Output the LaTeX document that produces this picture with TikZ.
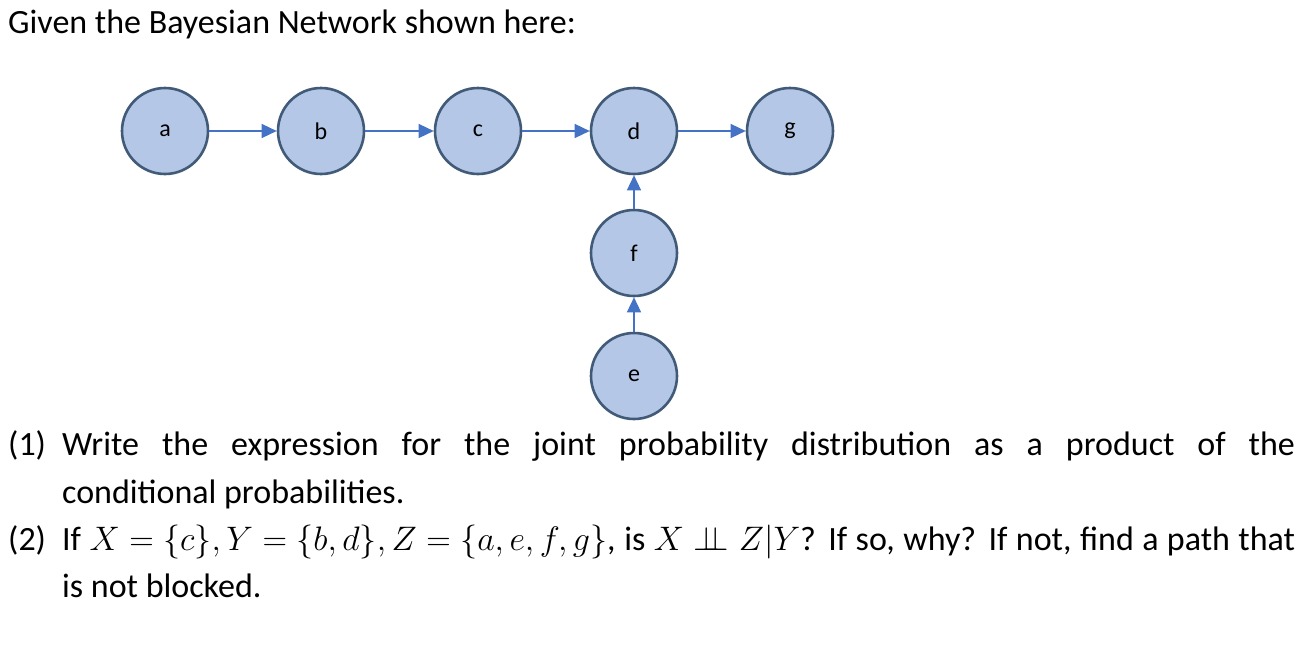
\documentclass[tikz,border=0pt]{standalone}
\usepackage{fontspec}
\setmainfont{Carlito}
\usetikzlibrary{arrows.meta}
\newcommand{\mymath}[1]{\scalebox{1.366}{\fontsize{24.88}{30}\selectfont$#1$}}
\begin{document}
\begin{tikzpicture}[x=1pt,y=-1pt,
  bn/.style={circle,minimum size=86pt,inner sep=0pt,fill={rgb,255:red,180;green,199;blue,231},draw={rgb,255:red,65;green,90;blue,120},line width=2.6pt,font=\fontsize{24}{28}\selectfont},
  ed/.style={draw={rgb,255:red,68;green,114;blue,196},line width=1.4pt,-{Triangle[length=15pt,width=14pt]}},
  txt/.style={anchor=base west,inner sep=0pt,font=\fontsize{34}{40}\selectfont}]
\useasboundingbox (0,0) rectangle (1307,648);
\node[txt] (t0) at (8,33) {Given the Bayesian Network shown here:};
\node[bn] (a) at (165,131) {a};
\node[bn] (b) at (321,131) {b};
\node[bn] (c) at (478,131) {c};
\node[bn] (d) at (634,131) {d};
\node[bn] (g) at (790,131) {g};
\node[bn] (f) at (634,253) {f};
\node[bn] (e) at (634,376) {e};
\draw[ed] (a) -- (b);
\draw[ed] (b) -- (c);
\draw[ed] (c) -- (d);
\draw[ed] (d) -- (g);
\draw[ed] (f) -- (d);
\draw[ed] (e) -- (f);
\node[txt] (l1) at (8,455) {\hbox to 1287pt{\hbox to 54pt{(1)\hfil}Write the expression for the joint probability distribution as a product of the}};
\node[txt] (l2) at (62,503) {conditional probabilities.};
\node[txt] (l3) at (8,550) {\hbox to 1287pt{\hbox to 54pt{(2)\hfil}If \mymath{X=\{c\}, Y=\{b,d\}, Z=\{a,e,f,g\}}, is \mymath{X \perp\!\!\!\perp Z|Y}? If so, why? If not, find a path that}};
\node[txt] (l4) at (62,597) {is not blocked.};
\end{tikzpicture}
\end{document}
